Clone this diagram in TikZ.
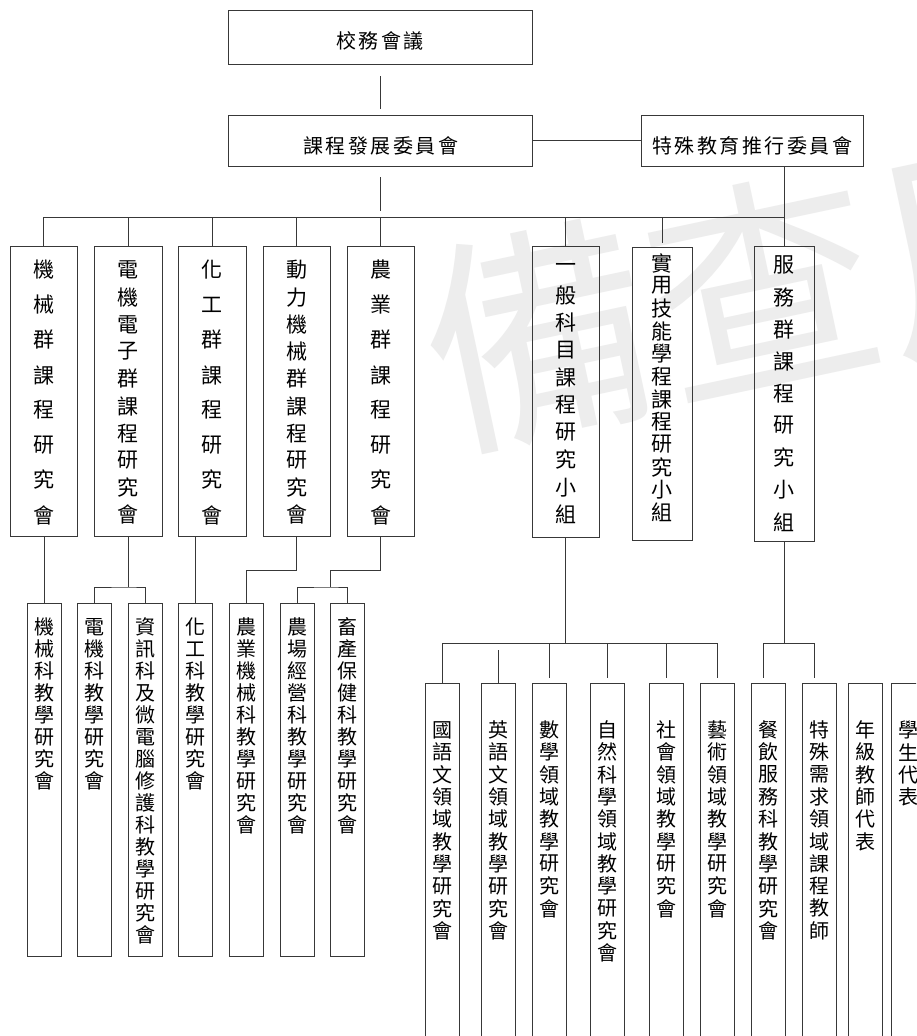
\documentclass[tikz,border=0pt]{standalone}
\usepackage{fontspec}
\newfontfamily\cjk{Noto Sans CJK TC}
\newcommand\gp{\hspace{2.5pt}}
\newcommand\vcol[6]{%
  \foreach \ww [count=\i from 0] in {#6}{\node[#5] (#1-\i) at (#2,{#3+\i*#4}) {\ww};}}
\begin{document}
\begin{tikzpicture}[x=1pt,y=-1pt,
  box/.style={draw=black!78,line width=1pt,anchor=north west,inner sep=0pt,outer sep=0pt},
  conn/.style={draw=black!78,line width=1pt},
  chU/.style={font=\cjk\fontsize{21}{21}\selectfont,inner sep=0pt},
  chL/.style={font=\cjk\fontsize{20}{20}\selectfont,inner sep=0pt},
  hlab/.style={font=\cjk\fontsize{20}{20}\selectfont,inner sep=0pt},
  wmark/.style={font=\cjk\fontsize{230}{230}\selectfont,text=black!7,inner sep=0pt}]
\useasboundingbox (0,0) rectangle (916,1036);
\clip (0,0) rectangle (916,1036);
\fill[white] (0,0) rectangle (916,1036);

% watermark
\node[wmark,rotate=12] (wm) at (764,288) {備查用};

% top level
\node[box,minimum width=304pt,minimum height=54pt] (top) at (228,10) {};
\node[hlab] (topT) at (380,41) {校\gp 務\gp 會\gp 議};
\node[box,minimum width=304pt,minimum height=51pt] (dev) at (228,115) {};
\node[hlab] (devT) at (380.5,146) {課\gp 程\gp 發\gp 展\gp 委\gp 員\gp 會};
\node[box,minimum width=222pt,minimum height=51pt] (spec) at (641,115) {};
\node[hlab] (specT) at (752,146) {特\gp 殊\gp 教\gp 育\gp 推\gp 行\gp 委\gp 員\gp 會};

% upper row
\node[box,minimum width=67pt,minimum height=290pt] (u1) at (10,246) {};
\node[box,minimum width=68pt,minimum height=290pt] (u2) at (94,246) {};
\node[box,minimum width=68pt,minimum height=290pt] (u3) at (178,246) {};
\node[box,minimum width=67pt,minimum height=290pt] (u4) at (263,246) {};
\node[box,minimum width=67pt,minimum height=290pt] (u5) at (347,246) {};
\node[box,minimum width=67pt,minimum height=291pt] (u6) at (532,246) {};
\node[box,minimum width=60pt,minimum height=293pt] (u7) at (632,247) {};
\node[box,minimum width=60pt,minimum height=295pt] (u8) at (754,246) {};
\vcol{t1}{43.5}{270}{35}{chU}{機,械,群,課,程,研,究,會}
\vcol{t2}{128}{270}{27.2}{chU}{電,機,電,子,群,課,程,研,究,會}
\vcol{t3}{212}{270}{35}{chU}{化,工,群,課,程,研,究,會}
\vcol{t4}{296.5}{270}{27.2}{chU}{動,力,機,械,群,課,程,研,究,會}
\vcol{t5}{380.5}{270}{35}{chU}{農,業,群,課,程,研,究,會}
\vcol{t6}{566}{268}{27.4}{chU}{一,般,科,目,課,程,研,究,小,組}
\vcol{t7}{662}{263}{22.7}{chU}{實,用,技,能,學,程,課,程,研,究,小,組}
\vcol{t8}{784}{265}{32.1}{chU}{服,務,群,課,程,研,究,小,組}

% lower left row
\foreach \n/\lx in {l1/27,l2/77,l3/128,l4/178,l5/229,l6/280,l7/330}
  \node[box,minimum width=34pt,minimum height=353pt] (\n) at (\lx,603) {};
\vcol{s1}{44}{627}{22}{chL}{機,械,科,教,學,研,究,會}
\vcol{s2}{94}{627}{22}{chL}{電,機,科,教,學,研,究,會}
\vcol{s3}{145}{627}{22}{chL}{資,訊,科,及,微,電,腦,修,護,科,教,學,研,究,會}
\vcol{s4}{195}{627}{22}{chL}{化,工,科,教,學,研,究,會}
\vcol{s5}{246}{627}{22}{chL}{農,業,機,械,科,教,學,研,究,會}
\vcol{s6}{297}{627}{22}{chL}{農,場,經,營,科,教,學,研,究,會}
\vcol{s7}{347}{627}{22}{chL}{畜,產,保,健,科,教,學,研,究,會}

% lower right row
\foreach \n/\lx in {r1/425,r2/481,r3/532,r4/590,r5/649,r6/700,r7/751,r8/802,r9/848,r10/891}
  \node[box,minimum width=34pt,minimum height=420pt] (\n) at (\lx,683) {};
\vcol{q1}{442}{730}{22.3}{chL}{國,語,文,領,域,教,學,研,究,會}
\vcol{q2}{498}{730}{22.3}{chL}{英,語,文,領,域,教,學,研,究,會}
\vcol{q3}{549}{730}{22.3}{chL}{數,學,領,域,教,學,研,究,會}
\vcol{q4}{607}{730}{22.3}{chL}{自,然,科,學,領,域,教,學,研,究,會}
\vcol{q5}{666}{730}{22.3}{chL}{社,會,領,域,教,學,研,究,會}
\vcol{q6}{717}{730}{22.3}{chL}{藝,術,領,域,教,學,研,究,會}
\vcol{q7}{768}{730}{22.3}{chL}{餐,飲,服,務,科,教,學,研,究,會}
\vcol{q8}{819}{730}{22.3}{chL}{特,殊,需,求,領,域,課,程,教,師}
\vcol{q9}{865}{730}{22.3}{chL}{年,級,教,師,代,表}
\vcol{q10}{908}{730}{22.3}{chL}{學,生,代,表}

% connectors: top
\coordinate (busy) at (0,217);
\draw[conn,shorten <=12pt,shorten >=6pt] (top.south) -- (dev.north);
\draw[conn] (dev.east) -- (dev.east -| spec.west);
\draw[conn,shorten <=11pt,shorten >=6pt] (dev.south) -- (dev.south |- busy);
\draw[conn] (u1.north) -- (u1.north |- busy) -- (u8.north |- busy);
\foreach \n in {u2,u3,u4,u5,u6} \draw[conn] (\n.north) -- (\n.north |- busy);
\draw[conn,shorten >=4pt] (u7.north |- busy) -- (u7.north);
\draw[conn] (u8.north |- spec.south) -- (u8.north);

% connectors: lower left
\draw[conn] (l1.north |- u1.south) -- (l1.north);
\draw[conn] (u2.south) -- ++(0,51) coordinate (j2);
\draw[conn] (l2.north) |- (j2) -| (l3.north);
\draw[conn] (l4.north |- u3.south) -- (l4.north);
\draw[conn] (u4.south) -- ++(0,34) -| (l5.north);
\coordinate (j5) at (330,587);
\draw[conn] (u5.south) -- ++(0,34) -| (j5);
\draw[conn] (l6.north) |- (j5) -| (l7.north);

% connectors: lower right
\coordinate (rb) at (0,643);
\draw[conn] (u6.south) -- (u6.south |- rb);
\draw[conn] (r1.north) -- (r1.north |- rb) -- (r6.north |- rb);
\draw[conn,shorten <=7pt] (r2.north |- rb) -- (r2.north);
\foreach \n in {r3,r4,r5,r6} \draw[conn,shorten >=5pt] (\n.north |- rb) -- (\n.north);
\draw[conn] (u8.south) -- (u8.south |- rb);
\coordinate (d7) at ([xshift=-4.5pt]r7.north);
\coordinate (d8) at ([xshift=-4.5pt]r8.north);
\draw[conn,shorten >=5pt] (d7 |- rb) -- (d7);
\draw[conn,shorten >=5pt] (d8 |- rb) -- (d8);
\draw[conn] (d7 |- rb) -- (d8 |- rb);
\end{tikzpicture}
\end{document}
